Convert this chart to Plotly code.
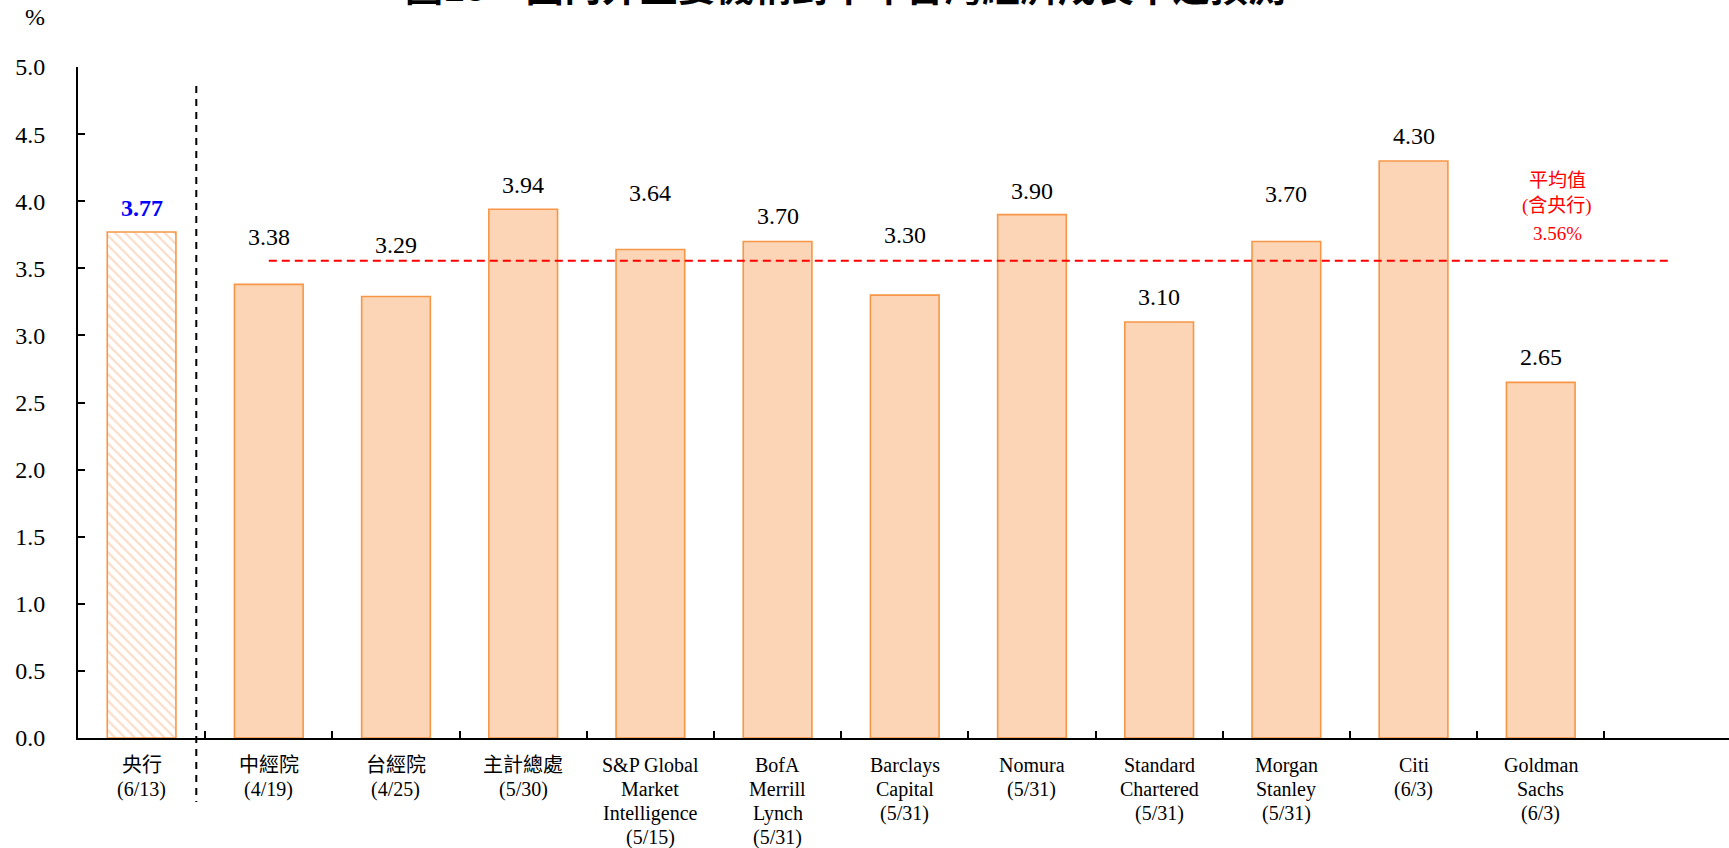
import plotly.graph_objects as go

# ---- data ----
names = ["央行", "中經院", "台經院", "主計總處", "S&P Global|Market|Intelligence",
         "BofA|Merrill|Lynch", "Barclays|Capital", "Nomura", "Standard|Chartered",
         "Morgan|Stanley", "Citi", "Goldman|Sachs"]
dates = ["6/13", "4/19", "4/25", "5/30", "5/15", "5/31", "5/31", "5/31", "5/31",
         "5/31", "6/3", "6/3"]
values = [3.77, 3.38, 3.29, 3.94, 3.64, 3.70, 3.30, 3.90, 3.10, 3.70, 4.30, 2.65]
y_ticks = [0.0, 0.5, 1.0, 1.5, 2.0, 2.5, 3.0, 3.5, 4.0, 4.5, 5.0]

title_text = "圖15　國內外主要機構對本年台灣經濟成長率之預測"
avg_label = ["平均值", "(含央行)"]

# ---- layout / style ----
label_lift_px = [24, 47, 51, 24, 57, 25, 60, 24, 25, 47, 25, 25]
SERIF = "Liberation Serif, Times New Roman, Noto Sans CJK TC, serif"
FILL = "#FBD5B5"
EDGE = "#F79646"

W, H = 1729, 848
ML, MT, MB = 78, 67, 110
plot_h = H - MT - MB


def py(pixel_y):
    return (H - MB - pixel_y) / plot_h


def pxp(pixel_x):
    return (pixel_x - ML) / (W - ML)


n = len(values)
xs = list(range(n))
avg = sum(values) / n

fig = go.Figure()
fig.add_trace(go.Bar(
    x=xs[:1], y=values[:1], width=0.54,
    marker=dict(color="white", line=dict(color=EDGE, width=1.6),
                pattern=dict(shape="\\", fgcolor="#F8B68A", bgcolor="white",
                             size=7, solidity=0.3, fillmode="overlay")),
    hoverinfo="skip"))
fig.add_trace(go.Bar(
    x=xs[1:], y=values[1:], width=0.54,
    marker=dict(color=FILL, line=dict(color=EDGE, width=1.6)),
    hoverinfo="skip"))

annotations = []
# value labels
for i, v in enumerate(values):
    first = i == 0
    annotations.append(dict(
        x=i, y=v, xref="x", yref="y",
        text=f"<b>{v:.2f}</b>" if first else f"{v:.2f}",
        showarrow=False, yanchor="middle", yshift=label_lift_px[i],
        font=dict(family=SERIF, size=24, color="#0000FF" if first else "black")))

# category labels (one annotation per line)
for i, (nm, d) in enumerate(zip(names, dates)):
    lines = nm.split("|") + [f"({d})"]
    for k, ln in enumerate(lines):
        annotations.append(dict(
            x=i, y=0, xref="x", yref="y", text=ln, showarrow=False,
            yanchor="middle", yshift=-27 - 24.3 * k,
            font=dict(family=SERIF, size=20, color="black")))

# average label (three lines above the average line, right side)
avg_lines = avg_label + [f"{avg:.2f}%"]
for k, ln in enumerate(avg_lines):
    annotations.append(dict(
        x=11.13, y=py(180 + 26.5 * k), xref="x", yref="paper", text=ln,
        showarrow=False, yanchor="middle",
        font=dict(family=SERIF, size=19, color="#FF0000")))

# percent unit
annotations.append(dict(x=pxp(35), y=py(17), xref="paper", yref="paper", text="%",
                        showarrow=False, yanchor="middle", xanchor="center",
                        font=dict(family=SERIF, size=24, color="black")))
# title (cut off at top edge, as in the reference)
annotations.append(dict(x=pxp(845), y=py(-16), xref="paper", yref="paper",
                        text=f"<b>{title_text}</b>", showarrow=False,
                        yanchor="middle", xanchor="center",
                        font=dict(family="Noto Sans CJK TC, sans-serif", size=38,
                                  color="black")))

shapes = [
    dict(type="line", xref="x", yref="y", x0=1, x1=12, y0=avg, y1=avg,
         line=dict(color="#FF0000", width=2, dash="8px,5px")),
    dict(type="line", xref="x", yref="paper", x0=0.43, x1=0.43, y0=py(86), y1=py(802),
         line=dict(color="black", width=2, dash="7px,6px")),
]

fig.update_layout(
    width=W, height=H, autosize=False,
    margin=dict(l=ML, r=0, t=MT, b=MB, pad=0),
    paper_bgcolor="white", plot_bgcolor="white",
    showlegend=False, barmode="overlay",
    font=dict(family=SERIF),
    annotations=annotations, shapes=shapes,
    xaxis=dict(range=[-0.5, 12.48], showgrid=False, zeroline=False,
               showline=True, linecolor="black", linewidth=2,
               tickvals=[i + 0.5 for i in range(n + 1)], ticks="inside",
               ticklen=7, tickwidth=2, tickcolor="black", showticklabels=False),
    yaxis=dict(range=[0, 5], showgrid=False, zeroline=False,
               showline=True, linecolor="black", linewidth=2,
               tickvals=y_ticks, ticktext=[f"{t:.1f}" for t in y_ticks],
               ticks="inside", ticklen=7, tickwidth=2, tickcolor="black",
               ticklabelstandoff=26,
               tickfont=dict(family=SERIF, size=24, color="black")),
)

fig.write_html("out.html")
